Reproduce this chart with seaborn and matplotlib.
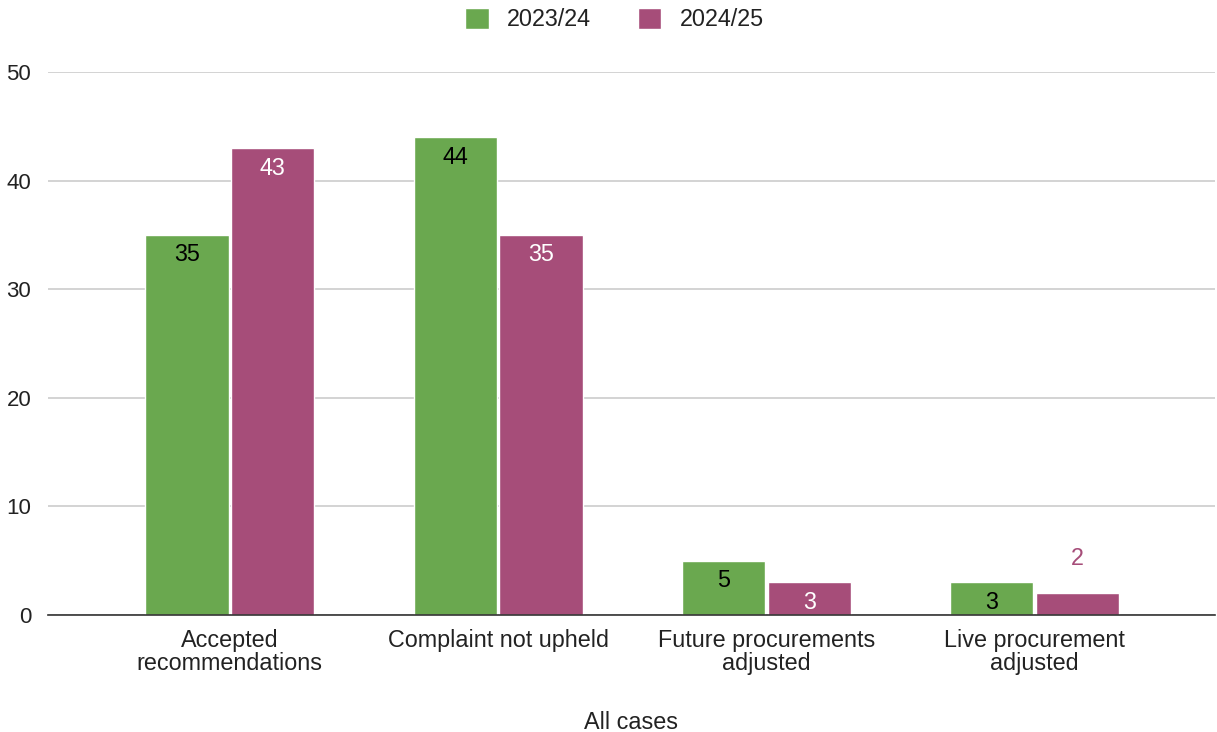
import numpy as np
import pandas as pd
import matplotlib
matplotlib.use('Agg')
import matplotlib.pyplot as plt
import seaborn as sns
from matplotlib.patches import Patch

categories=['Accepted\nrecommendations', 'Complaint not upheld',
            'Future procurements\nadjusted', 'Live procurement\nadjusted']
years=['2023/24', '2024/25']
vals_2324=[35, 44, 5, 3]
vals_2425=[43, 35, 3, 2]
yticks=[0, 10, 20, 30, 40, 50]

green='#6AA84F'
purple='#A64D79'

df=pd.DataFrame({
    'category': categories*2,
    'year': [years[0]]*4+[years[1]]*4,
    'value': vals_2324+vals_2425,
})

sns.set_style('white')
plt.rcParams['font.family']=['Liberation Sans', 'DejaVu Sans']

fig=plt.figure(figsize=(12.17, 7.32), dpi=100)
ax=fig.add_axes([0.0394, 0.1598, 0.9586, 0.7418])

sns.barplot(data=df, x='category', y='value', hue='year', order=categories,
            hue_order=years, palette=[green, purple], saturation=1,
            width=0.64, gap=0.03, ax=ax, legend=False)

ax.set_ylim(0, 50)
ax.set_xlim(-0.678, 3.671)
ax.set_yticks(yticks)
ax.yaxis.grid(True, color='#CCCCCC', linewidth=1.2)
ax.set_axisbelow(True)
for s in ['top', 'right', 'left']:
    ax.spines[s].set_visible(False)
ax.spines['bottom'].set_color('#333333')
ax.spines['bottom'].set_linewidth(1.2)
ax.tick_params(axis='both', length=0, colors='#222222')
ax.tick_params(axis='x', pad=10, labelsize=16.8)
ax.tick_params(axis='y', pad=12, labelsize=16)
for t in ax.get_xticklabels():
    t.set_linespacing(1.0)
ax.set_ylabel('')
ax.set_xlabel('All cases', fontsize=16.8, color='#222222', labelpad=26)

# value labels
for container, color in zip(ax.containers, ['black', 'white']):
    for bar in container:
        h=bar.get_height()
        x=bar.get_x()+bar.get_width()/2
        if h<2.5:
            ax.annotate(f'{h:.0f}', (x, h), xytext=(0, 35), textcoords='offset pixels',
                        ha='center', va='center', fontsize=16.8, color=purple)
        else:
            ax.annotate(f'{h:.0f}', (x, h), xytext=(0, -20), textcoords='offset pixels',
                        ha='center', va='center', fontsize=16.8, color=color)

handles=[Patch(facecolor=green, label=years[0]), Patch(facecolor=purple, label=years[1])]
fig.legend(handles=handles, loc='center', bbox_to_anchor=(0.505, 0.973), ncol=2,
           frameon=False, fontsize=16.8, handlelength=1.0, handleheight=1.0,
           columnspacing=2.0, handletextpad=0.8, labelcolor='#222222')

plt.savefig('out.png', dpi=100)
plt.close()
